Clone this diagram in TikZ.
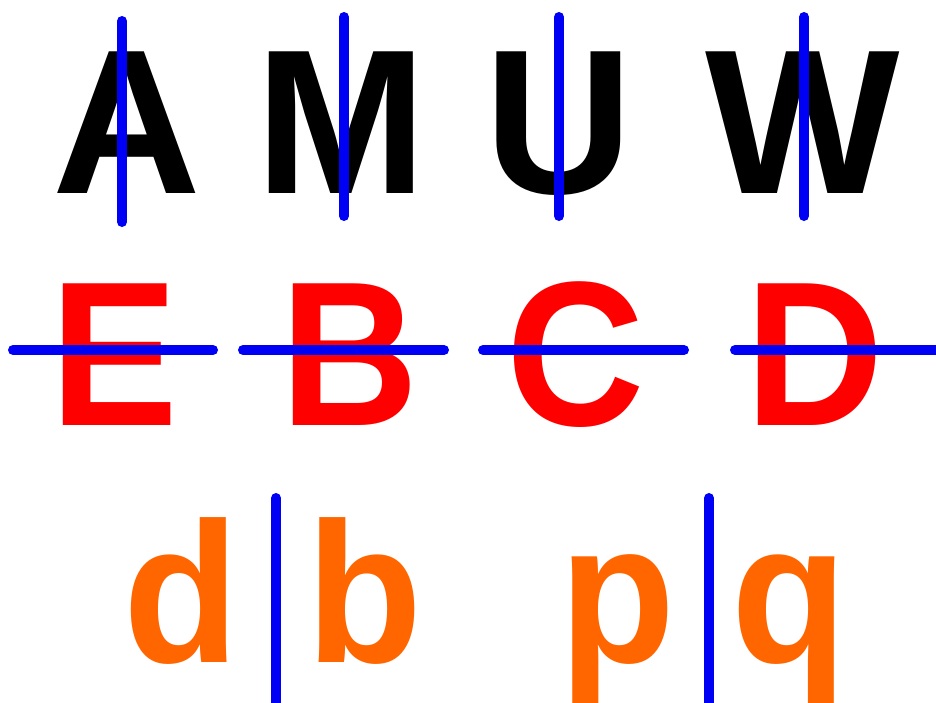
\documentclass[tikz,border=0pt]{standalone}
\usepackage{fontspec}
\setmainfont{Liberation Sans}
\definecolor{axisblue}{RGB}{0,0,245}
\definecolor{letterred}{RGB}{255,0,0}
\definecolor{letterorange}{RGB}{255,102,0}
\newcommand{\narrowB}[1]{\scalebox{0.93}[1]{#1}}
\newcommand{\narrowC}[1]{\scalebox{0.95}[1]{#1}}
\begin{document}
\begin{tikzpicture}[x=1pt,y=-1pt,
  bigA/.style={anchor=base,inner sep=0pt,font=\fontsize{206}{206}\selectfont\bfseries,text=black},
  bigB/.style={anchor=base,inner sep=0pt,font=\fontsize{206}{206}\selectfont\bfseries,text=letterred},
  bigC/.style={anchor=base,inner sep=0pt,font=\fontsize{200}{200}\selectfont\bfseries,text=letterorange},
  axisline/.style={draw=axisblue,line width=10pt,line cap=round}]
\useasboundingbox (0,0) rectangle (936,702);
\fill[white] (0,0) rectangle (936,702);
% row 1
\node[bigA] (a) at (126.5,193) {A};
\node[bigA] (m) at (341,193) {M};
\node[bigA] (u) at (559,193) {U};
\node[bigA] (w) at (802.5,193) {W};
\draw[axisline] (122,21) -- (122,222);
\draw[axisline] (344,17) -- (344,216);
\draw[axisline] (559,17) -- (559,216);
\draw[axisline] (804,17) -- (804,216);
% row 2
\node[bigB] (e) at (114,425) {\narrowB{E}};
\node[bigB] (b2) at (350,425) {\narrowB{B}};
\node[bigB] (c) at (575.5,425) {\narrowB{C}};
\node[bigB] (d2) at (815,425) {\narrowB{D}};
\draw[axisline] (13,350) -- (213,350);
\draw[axisline] (243,350) -- (444,350);
\draw[axisline] (483,350) -- (684,350);
\draw[axisline] (735,350) -- (941,350);
% row 3
\node[bigC] (ld) at (181.5,662) {\narrowC{d}};
\node[bigC] (lb) at (365,662) {\narrowC{b}};
\node[bigC] (lp) at (618,662) {\narrowC{p}};
\node[bigC] (lq) at (790,662) {\narrowC{q}};
\draw[axisline] (276,498) -- (276,707);
\draw[axisline] (709,498) -- (709,707);
\end{tikzpicture}
\end{document}
